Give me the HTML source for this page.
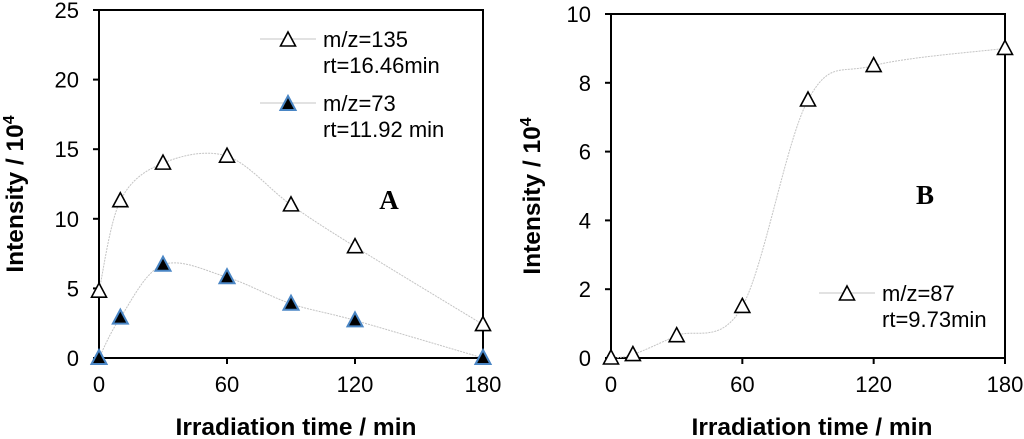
<!DOCTYPE html>
<html><head><meta charset="utf-8"><style>
html,body{margin:0;padding:0;background:#fff;}
svg{display:block;font-family:"Liberation Sans",Arial,sans-serif;}
</style></head><body>
<svg id="c" width="1024" height="439" viewBox="0 0 1024 439" xmlns="http://www.w3.org/2000/svg"></svg>
<script>
const xVals=[0,10,30,60,90,120,180];
const seriesA135=[4.8,11.3,14,14.5,11,8,2.4];
const seriesA73=[0,2.9,6.7,5.8,3.9,2.7,0];
const seriesB87=[0,0.1,0.65,1.5,7.5,8.5,9];
const xTicks=[0,60,120,180];
const yTicksA=[0,5,10,15,20,25];
const yTicksB=[0,2,4,6,8,10];
const NS="http://www.w3.org/2000/svg";
const svg=document.getElementById('c');
function el(tag,attrs,parent,text){const e=document.createElementNS(NS,tag);for(const k in attrs)e.setAttribute(k,attrs[k]);if(text!==undefined)e.textContent=text;(parent||svg).appendChild(e);return e;}
function smooth(pts){let d=`M${pts[0][0]},${pts[0][1]}`;for(let i=0;i<pts.length-1;i++){const p0=pts[Math.max(0,i-1)],p1=pts[i],p2=pts[i+1],p3=pts[Math.min(pts.length-1,i+2)];const t=1/3;const c1=[p1[0]+(p2[0]-p0[0])*t/2,p1[1]+(p2[1]-p0[1])*t/2];const c2=[p2[0]-(p3[0]-p1[0])*t/2,p2[1]-(p3[1]-p1[1])*t/2];d+=` C${c1[0]},${c1[1]} ${c2[0]},${c2[1]} ${p2[0]},${p2[1]}`;}return d;}
function tri(g,x,y,filled,name){const t=el('path',{d:`M${x},${y-8} L${x+7.5},${y+6} L${x-7.5},${y+6} Z`,fill:filled?'#000':'#fff',stroke:filled?'#4a86c5':'#000','stroke-width':filled?2:1.6},g);

return t;}
function panel(o){
 const g=el('g',{},svg);
 const xs=v=>o.l+(v-0)/180*(o.r-o.l);const ys=v=>o.b-v/o.ymax*(o.b-o.t);
 el('rect',{x:o.l,y:o.t,width:o.r-o.l,height:o.b-o.t,fill:'none',stroke:'#000','stroke-width':2},g);
 o.yt.forEach(v=>{el('line',{x1:o.l-6,x2:o.l,y1:ys(v),y2:ys(v),stroke:'#000','stroke-width':2},g);
  const t=el('text',{x:o.l-20,y:ys(v)+8,'text-anchor':'end','font-size':22},g,String(v));});
 xTicks.forEach(v=>{el('line',{x1:xs(v),x2:xs(v),y1:o.b,y2:o.b+6,stroke:'#000','stroke-width':2},g);
  const t=el('text',{x:xs(v),y:392,'text-anchor':'middle','font-size':22},g,String(v));});
 const xt=el('text',{x:o.xtx,y:435,'text-anchor':'middle','font-size':24.5,'font-weight':'bold'},g,'Irradiation time / min');
 const yt=el('text',{transform:`translate(${o.ytx},${(o.t+o.b)/2+10}) rotate(-90)`,'text-anchor':'middle','font-size':24.5,'font-weight':'bold'},g);
 
 el('tspan',{},yt,'Intensity / 10');el('tspan',{dy:-9,'font-size':16},yt,'4');
 o.series.forEach(s=>{const pts=xVals.map((x,i)=>[xs(x),ys(s.v[i])]);
  const p=el('path',{d:smooth(pts),fill:'none',stroke:'#c4c4c4','stroke-width':1,'stroke-dasharray':'2,1'},g);
  pts.forEach(pt=>tri(g,pt[0],pt[1],s.filled,s.name+'-point'));});
 const lab=el('text',{x:o.lab[0],y:o.lab[1],'text-anchor':'middle','font-size':27,'font-weight':'bold','font-family':'Liberation Serif,serif'},g,o.letter);
 o.legend.forEach(L=>{const lg=el('g',{},g);
  el('line',{x1:L.x-28,x2:L.x+28,y1:L.y,y2:L.y,stroke:'#c4c4c4','stroke-width':1},lg);tri(lg,L.x,L.y+1,L.filled,'legend-marker');
  el('text',{x:L.x+35,y:L.y+8,'font-size':22},lg,L.t1);el('text',{x:L.x+35,y:L.y+34,'font-size':22},lg,L.t2);});
}
panel({name:'panel-a',l:99,r:483,t:10,b:358,ymax:25,yt:yTicksA,xtx:296,ytx:23,letter:'A',lab:[389,209],
 series:[{v:seriesA135,filled:false,name:'mz135'},{v:seriesA73,filled:true,name:'mz73'}],
 legend:[{x:288,y:39,filled:false,t1:'m/z=135',t2:'rt=16.46min'},{x:288,y:103,filled:true,t1:'m/z=73',t2:'rt=11.92 min'}]});
panel({name:'panel-b',l:611,r:1005,t:14,b:358,ymax:10,yt:yTicksB,xtx:812,ytx:540,letter:'B',lab:[925,204],
 series:[{v:seriesB87,filled:false,name:'mz87'}],
 legend:[{x:847,y:293,filled:false,t1:'m/z=87',t2:'rt=9.73min'}]});
</script>
</body></html>
